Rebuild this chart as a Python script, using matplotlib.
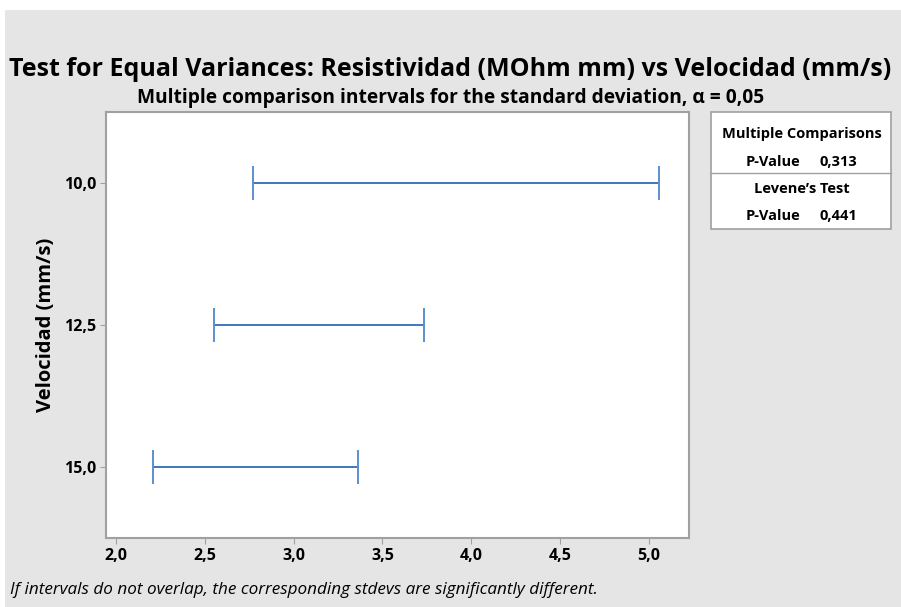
import matplotlib

matplotlib.use("Agg")
import matplotlib.pyplot as plt
from matplotlib.patches import Rectangle
from matplotlib.lines import Line2D

plt.rcParams["font.family"] = ["Open Sans", "DejaVu Sans"]

# data
levels = ["10,0", "12,5", "15,0"]
lower = [2.77, 2.555, 2.21]
upper = [5.055, 3.735, 3.36]
x_ticks = [2.0, 2.5, 3.0, 3.5, 4.0, 4.5, 5.0]
mc_pvalue = "0,313"
levene_pvalue = "0,441"

W, H = 901, 607
BG = "#e5e5e5"
LINE = "#1f5fae"
CAP = "#5b8fd0"
EDGE = "#a0a0a0"


def fx(px):
    return px / W


def fy(py):
    return 1 - py / H


fig = plt.figure(figsize=(W / 100, H / 100), dpi=100)
fig.patch.set_facecolor("white")
fig.patches.append(Rectangle((fx(5), 0), 1 - fx(5), fy(10), transform=fig.transFigure,
                             facecolor=BG, edgecolor="none", zorder=-10))

ax = fig.add_axes([fx(106), fy(538), fx(689 - 106), (538 - 112) / H])
ax.set_facecolor("white")

ypos = list(range(len(levels)))
ax.hlines(ypos, lower, upper, color=LINE, lw=1.2)
ax.plot(lower, ypos, ls="none", marker="|", ms=24, mew=1.4, color=CAP)
ax.plot(upper, ypos, ls="none", marker="|", ms=24, mew=1.4, color=CAP)

ax.set_xlim(1.945, 5.225)
ax.set_ylim(2.5, -0.5)
ax.set_xticks(x_ticks)
ax.set_xticklabels([f"{v:.1f}".replace(".", ",") for v in x_ticks], fontweight="bold", fontsize=11.5)
ax.set_yticks(ypos)
ax.set_yticklabels(levels, fontweight="bold", fontsize=11.5)
ax.tick_params(direction="out", length=4, color=EDGE, pad=3)
for s in ax.spines.values():
    s.set_color(EDGE)
    s.set_linewidth(1.5)
ax.set_ylabel("Velocidad (mm/s)", fontweight="bold", fontsize=14.5, labelpad=5.5)

fig.text(0.5, fy(70), "Test for Equal Variances: Resistividad (MOhm mm) vs Velocidad (mm/s)",
         ha="center", va="center", fontsize=18, fontweight="bold")
fig.text(0.5, fy(98), "Multiple comparison intervals for the standard deviation, \u03b1 = 0,05",
         ha="center", va="center", fontsize=13.8, fontweight="bold")
fig.text(fx(10), fy(590), "If intervals do not overlap, the corresponding stdevs are significantly different.",
         ha="left", va="center", fontsize=12.3, style="italic")

# summary box on the right
fig.patches.append(Rectangle((fx(711), fy(229)), fx(891 - 711), (229 - 112) / H,
                             transform=fig.transFigure, facecolor="white", edgecolor=EDGE, lw=1.2))
fig.lines.append(Line2D([fx(711), fx(891)], [fy(173), fy(173)], transform=fig.transFigure,
                        color=EDGE, lw=1.0))
fs = 10.5
fig.text(fx(802), fy(134), "Multiple Comparisons", ha="center", va="center", fontsize=fs, fontweight="bold")
fig.text(fx(773), fy(162), "P-Value", ha="center", va="center", fontsize=fs, fontweight="bold")
fig.text(fx(838), fy(162), mc_pvalue, ha="center", va="center", fontsize=fs, fontweight="bold")
fig.text(fx(802), fy(189), "Levene\u2019s Test", ha="center", va="center", fontsize=fs, fontweight="bold")
fig.text(fx(773), fy(216), "P-Value", ha="center", va="center", fontsize=fs, fontweight="bold")
fig.text(fx(838), fy(216), levene_pvalue, ha="center", va="center", fontsize=fs, fontweight="bold")

fig.savefig("out.png", dpi=100, facecolor=fig.get_facecolor())
